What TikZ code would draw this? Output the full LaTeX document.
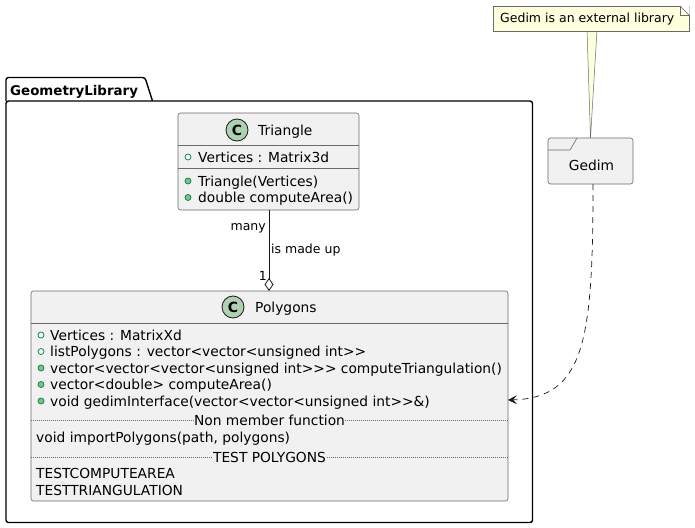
\documentclass[tikz,border=0pt]{standalone}
\usepackage{fontspec}
\setmainfont{DejaVu Sans}
\usetikzlibrary{arrows.meta}

\definecolor{classbg}{HTML}{F1F1F1}
\definecolor{edge}{HTML}{181818}
\definecolor{thinedge}{HTML}{6A6A6A}
\definecolor{notebg}{HTML}{FEFFDD}
\definecolor{iconbg}{HTML}{ADD1B2}
\definecolor{visline}{HTML}{038048}
\definecolor{visfill}{HTML}{84BE84}

\newcommand{\memberfont}{\fontsize{13.8}{16}\selectfont}
\newcommand{\labelfont}{\fontsize{12.5}{15}\selectfont}
\newcommand{\pkgfont}{\bfseries\fontsize{13.4}{16}\selectfont}

\begin{document}
\begin{tikzpicture}[x=1pt, y=-1pt,
  classbox/.style={draw=thinedge, fill=classbg, line width=0.6pt, rounded corners=2.5pt,
                   inner sep=0pt, outer sep=0pt},
  member/.style={anchor=base west, inner sep=0pt, font=\memberfont},
  sepcaption/.style={anchor=base, inner sep=0.5pt, fill=classbg, font=\memberfont},
  rule/.style={draw=thinedge, line width=0.6pt},
  dotrule/.style={draw=thinedge, line width=0.5pt, dash pattern=on 1pt off 1pt},
  fieldmark/.style={draw=visline, line width=0.7pt},
  methodmark/.style={draw=visline, fill=visfill, line width=0.7pt},
  classicon/.style={draw=edge, fill=iconbg, line width=0.8pt},
  iconletter/.style={font=\bfseries\fontsize{14}{14}\selectfont, inner sep=0pt},
  edgelabel/.style={inner sep=0pt, font=\labelfont}
]
\useasboundingbox (0,0) rectangle (695,527);

% ---- package GeometryLibrary ----
\draw[line width=1.4pt, rounded corners=2.5pt] (6,101) -- (6,77.5) -- (145,77.5) -- (152.5,101);
\draw[line width=1.4pt, rounded corners=2.5pt] (6,101) rectangle (532.5,522.5);
\node[anchor=base west, inner sep=0pt, font=\pkgfont] (pkgname) at (10,95) {GeometryLibrary};

% ---- class Triangle ----
\node[classbox, minimum width=181pt, minimum height=97pt] (tri) at (268.5,161.5) {};
\draw[rule] (178,145) -- (359,145);
\draw[rule] (178,168.5) -- (359,168.5);
\draw[classicon] (237,130) circle (11pt);
\node[iconletter] at (237,130) {C};
\node[member] at (258,135) {Triangle};
\draw[fieldmark] (188,157) circle (3pt);
\node[member] at (198,162) {Vertices : Matrix3d};
\draw[methodmark] (188,181) circle (3pt);
\node[member] at (198,186) {Triangle(Vertices)};
\draw[methodmark] (188,197.5) circle (3pt);
\node[member] at (198,202.5) {double computeArea()};

% ---- class Polygons ----
\node[classbox, minimum width=477pt, minimum height=210pt] (poly) at (269.5,396) {};
\draw[rule] (31,323.3) -- (508,323.3);
\draw[classicon] (233,307) circle (11pt);
\node[iconletter] at (233,307) {C};
\node[member] at (255,312) {Polygons};
\draw[fieldmark] (41,335) circle (3pt);
\node[member] at (50,340) {Vertices : MatrixXd};
\draw[fieldmark] (41,351.5) circle (3pt);
\node[member] at (50,356.5) {listPolygons : vector<vector<unsigned int>{}>};
\draw[methodmark] (41,368) circle (3pt);
\node[member] at (50,373) {vector<vector<vector<unsigned int>{}>{}> computeTriangulation()};
\draw[methodmark] (41,384.5) circle (3pt);
\node[member] at (50,389.5) {vector<double> computeArea()};
\draw[methodmark] (41,401) circle (3pt);
\node[member] at (50,406) {void gedimInterface(vector<vector<unsigned int>{}>\&)};
\draw[dotrule] (31,420) -- (508,420);
\node[sepcaption] at (269.5,425) {Non member function};
\node[member] at (36,442) {void importPolygons(path, polygons)};
\draw[dotrule] (31,457.3) -- (508,457.3);
\node[sepcaption] at (269.5,462.3) {TEST POLYGONS};
\node[member] at (36,478.5) {TESTCOMPUTEAREA};
\node[member] at (36,495) {TESTTRIANGULATION};

% ---- Gedim (external) ----
\node[classbox, minimum width=85pt, minimum height=46pt] (gedim) at (590.5,161) {};
\draw[rule] (548,150) -- (570,150) -- (577,138);
\node[inner sep=0pt, font=\memberfont, anchor=base] at (591.5,170.5) {Gedim};

% ---- note attached to Gedim ----
\coordinate (notetip) at (gedim.north);
\filldraw[fill=notebg, draw=thinedge, line width=0.5pt] (587,30) -- (notetip) -- (597,30);
\node[draw=thinedge, fill=notebg, line width=0.5pt, minimum width=196pt, minimum height=25pt,
      inner sep=0pt] (note) at (591,18.5) {};
\fill[white] (680.5,5.5) -- (689.5,5.5) -- (689.5,14.8) -- cycle;
\draw[thinedge, line width=0.5pt, fill=notebg] (680,6) -- (680,15) -- (689,15);
\draw[thinedge, line width=0.5pt] (680,6) -- (689,15);
\node[anchor=base west, inner sep=0pt, font=\labelfont] at (500,22.5) {Gedim is an external library};

% ---- Triangle is made up into Polygons (aggregation) ----
\draw[edge, line width=0.8pt, -{Diamond[open, length=13pt, width=9pt, line width=0.8pt]}]
  (tri.south -| 269,0) -- (poly.north -| 269,0);
\node[edgelabel, anchor=base east] at (266,230.5) {many};
\node[edgelabel, anchor=base west] at (271,253) {is made up};
\node[edgelabel, anchor=base east] at (267,280) {1};

% ---- dependency of Polygons on Gedim ----
\draw[edge, line width=0.7pt, dash pattern=on 6pt off 5pt,
      -{Stealth[length=9pt, width=9pt, inset=4pt, line width=0.6pt]}]
  (gedim.south -| 593,0) .. controls (593,340) and (585,398) .. (poly.east |- 0,400);

\end{tikzpicture}
\end{document}
